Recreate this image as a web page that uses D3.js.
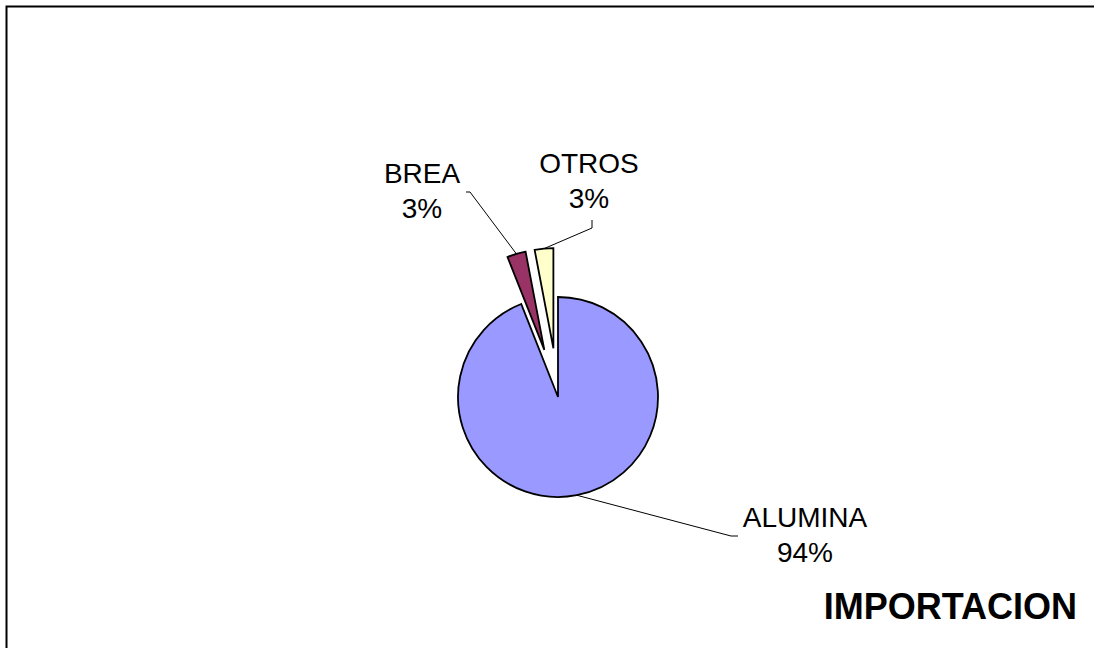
<!DOCTYPE html>
<html>
<head>
<meta charset="utf-8">
<script src="https://cdn.jsdelivr.net/npm/d3@7"></script>
<style>
  body { margin: 0; background: #fff; overflow: hidden; }
  svg { display: block; }
  text { font-family: "Liberation Sans", Arial, sans-serif; }
</style>
</head>
<body>
<script>
const width  = 1094;
const height = 648;

// data
const labels  = ['ALUMINA', 'BREA', 'OTROS'];
const values  = [94, 3, 3];
const colors  = ['#9999ff', '#993366', '#ffffcc'];
const explode = [0, 49, 49];

// label anchors relative to pie centre (text centre x, first baseline y)
const labelPos = [
  {x: 247, y: 130, elbow: [173, 139], end: [180, 139]},
  {x: -136, y: -214, elbow: [-88, -205], end: [-92, -205]},
  {x: 31, y: -224, elbow: [34, -169], end: [34, -177]}
];

const cx = 558, cy = 397, radius = 100;

const svg = d3.select('body').append('svg')
  .attr('width', width)
  .attr('height', height);

// frame (only top and left sides show)
svg.append('path')
  .attr('d', 'M6.5,' + (height + 5) + 'V6.5H' + (width + 5))
  .attr('fill', 'none')
  .attr('stroke', '#000')
  .attr('stroke-width', 2);

const pie = d3.pie().sort(null).value(d => d);
const arc = d3.arc().innerRadius(0).outerRadius(radius);

const slices = pie(values);
const g = svg.append('g').attr('transform', 'translate(' + cx + ',' + cy + ')');

g.selectAll('path.slice')
  .data(slices)
  .enter().append('path')
  .attr('class', 'slice')
  .attr('d', arc)
  .attr('transform', (d, i) => {
    const a = (d.startAngle + d.endAngle) / 2;
    return 'translate(' + (Math.sin(a) * explode[i]) + ',' + (-Math.cos(a) * explode[i]) + ')';
  })
  .attr('fill', (d, i) => colors[i])
  .attr('stroke', '#000')
  .attr('stroke-width', 1.8)
  .attr('stroke-linejoin', 'miter');

// leader lines
g.selectAll('path.leader')
  .data(slices)
  .enter().append('path')
  .attr('class', 'leader')
  .attr('fill', 'none')
  .attr('stroke', '#000')
  .attr('stroke-width', 1)
  .attr('d', (d, i) => {
    const a = (d.startAngle + d.endAngle) / 2;
    const r = radius + explode[i];
    const p = labelPos[i];
    return 'M' + (Math.sin(a) * r) + ',' + (-Math.cos(a) * r) +
      'L' + p.elbow[0] + ',' + p.elbow[1] + 'L' + p.end[0] + ',' + p.end[1];
  });

// labels
const lab = g.selectAll('text.lab')
  .data(slices)
  .enter().append('text')
  .attr('class', 'lab')
  .attr('text-anchor', 'middle')
  .style('font-size', '28px')
  .attr('x', (d, i) => labelPos[i].x)
  .attr('y', (d, i) => labelPos[i].y);

lab.append('tspan').text((d, i) => labels[i]);
lab.append('tspan')
  .attr('x', (d, i) => labelPos[i].x)
  .attr('dy', 34.5)
  .text(d => d3.format('.0%')(d.value / d3.sum(values)));

// title
svg.append('text')
  .attr('x', 1077)
  .attr('y', 619)
  .attr('text-anchor', 'end')
  .style('font-size', '36px')
  .style('font-weight', 'bold')
  .text('IMPORTACION');
</script>
</body>
</html>
